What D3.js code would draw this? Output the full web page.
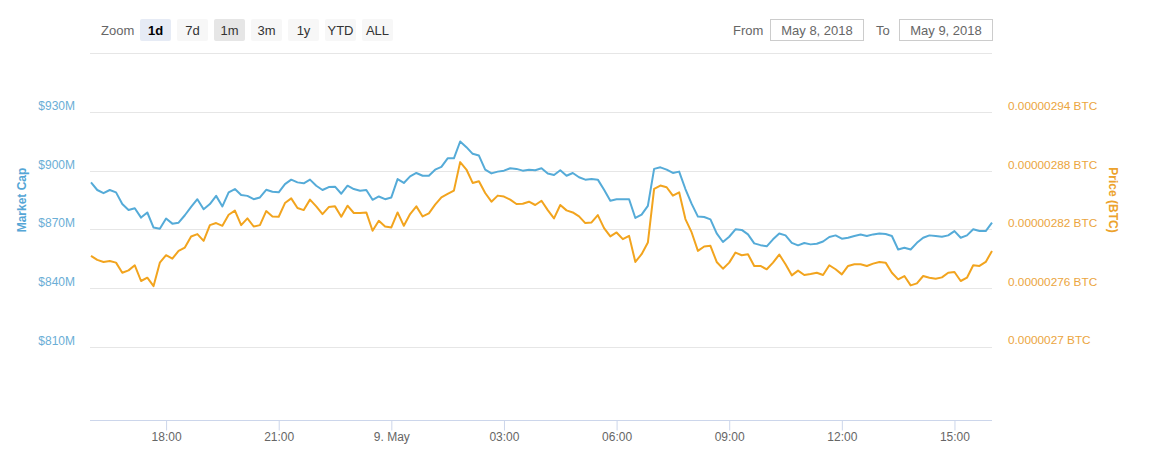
<!DOCTYPE html>
<html>
<head>
<meta charset="utf-8">
<script src="https://cdn.jsdelivr.net/npm/d3@7"></script>
<style>
  html, body { margin: 0; padding: 0; background: #fff; }
  svg { display: block; font-family: "Liberation Sans", Arial, sans-serif; }
</style>
</head>
<body>
<svg id="chart" width="1161" height="467"></svg>
<script>
// ---------- data (10-minute samples from 8 May 2018 16:00 to 9 May 2018 16:00) ----------
const startTime = Date.UTC(2018, 4, 8, 16, 0);
const stepMinutes = 10;

const marketCapM = [
  894.0, 890.1, 888.5, 890.1, 888.9, 882.9, 879.9, 880.8, 876.0, 878.6,
  870.9, 870.3, 875.5, 872.9, 873.4, 877.2, 881.5, 885.4, 880.3, 882.9,
  887.1, 881.7, 888.9, 890.6, 887.5, 887.1, 885.4, 886.3, 890.2, 889.2,
  888.9, 893.1, 895.4, 894.0, 893.5, 895.4, 892.3, 890.1, 891.6, 891.8,
  888.2, 892.3, 890.6, 889.7, 890.1, 885.1, 886.8, 885.4, 886.3, 895.7,
  893.7, 897.1, 898.8, 897.4, 897.4, 900.5, 901.9, 906.3, 906.3, 914.9,
  912.0, 908.6, 907.7, 900.5, 898.6, 899.5, 900.0, 901.2, 900.9, 900.0,
  900.5, 900.2, 901.2, 898.5, 897.8, 900.2, 897.4, 898.8, 896.6, 895.4,
  895.7, 895.4, 890.2, 884.6, 885.4, 885.4, 885.4, 875.8, 877.5, 882.0,
  900.9, 901.7, 900.5, 898.8, 899.5, 890.6, 883.0, 876.5, 876.3, 875.1,
  867.9, 863.5, 866.2, 870.0, 869.7, 867.4, 862.8, 861.9, 861.3, 864.9,
  867.9, 866.9, 863.1, 861.8, 863.0, 862.3, 862.6, 863.8, 866.1, 866.9,
  865.2, 865.7, 866.6, 867.3, 866.6, 867.4, 867.9, 867.6, 866.6, 859.7,
  860.6, 859.7, 863.1, 865.7, 866.9, 866.6, 866.2, 866.9, 869.1, 865.7,
  866.9, 870.0, 869.1, 869.1, 873.4
];

// price in units of 1e-8 BTC
const priceSat = [
  279.26, 278.85, 278.64, 278.74, 278.57, 277.54, 277.78, 278.30, 276.69, 277.03,
  276.17, 278.57, 279.33, 278.98, 279.77, 280.11, 281.25, 281.49, 280.80, 282.41,
  282.62, 282.34, 283.47, 283.89, 282.41, 283.10, 282.27, 282.41, 283.85, 283.30,
  283.27, 284.67, 285.15, 284.16, 283.95, 285.02, 284.33, 283.54, 284.26, 284.33,
  283.27, 284.40, 283.65, 283.65, 283.71, 281.83, 282.86, 282.27, 282.17, 283.71,
  282.34, 283.54, 284.33, 283.30, 283.61, 284.50, 285.26, 285.60, 285.94, 288.86,
  288.10, 286.73, 286.90, 285.70, 284.81, 285.43, 285.33, 285.02, 284.57, 284.60,
  284.81, 284.47, 284.91, 283.95, 283.10, 284.47, 283.92, 283.71, 283.30, 282.62,
  282.69, 283.44, 282.10, 281.25, 281.66, 280.97, 281.31, 278.64, 279.43, 280.63,
  286.11, 286.46, 286.29, 285.43, 285.77, 283.03, 281.66, 279.77, 280.22, 280.29,
  278.64, 277.95, 278.57, 279.60, 279.33, 279.43, 278.23, 278.23, 277.89, 278.57,
  279.40, 278.40, 277.27, 277.75, 277.30, 277.41, 277.54, 277.30, 278.30, 277.89,
  277.37, 278.23, 278.40, 278.40, 278.23, 278.47, 278.64, 278.57, 277.54, 276.86,
  277.20, 276.24, 276.45, 277.20, 277.03, 276.93, 277.06, 277.54, 277.61, 276.69,
  277.03, 278.30, 278.23, 278.64, 279.77
];

const capTicks = [810, 840, 870, 900, 930];
const capGrid = [810, 840, 870, 900, 930, 960];
const priceTicks = [270, 276, 282, 288, 294];
const zoomButtons = ["1d", "7d", "1m", "3m", "1y", "YTD", "ALL"];
const fromDate = "May 8, 2018";
const toDate = "May 9, 2018";

// ---------- setup ----------
const svg = d3.select("#chart");
const plot = { left: 91, right: 992, top: 53.3, bottom: 420 };
const blue = "#55abd8";
const orange = "#f2a41e";

const t0 = new Date(startTime);
const t1 = new Date(startTime + 24 * 3600 * 1000);
const x = d3.scaleUtc().domain([t0, t1]).range([plot.left, plot.right]);
const yCap = d3.scaleLinear().domain([772.5, 960]).range([plot.bottom, plot.top]);
const yPrice = d3.scaleLinear().domain([262.46, 300]).range([plot.bottom, plot.top]);

const timeAt = i => new Date(startTime + i * stepMinutes * 60000);

// gridlines
svg.append("g").selectAll("line").data(capGrid).join("line")
  .attr("x1", 90).attr("x2", plot.right)
  .attr("y1", d => Math.round(yCap(d)) + 0.5).attr("y2", d => Math.round(yCap(d)) + 0.5)
  .attr("stroke", "#e6e6e6").attr("stroke-width", 1);

// x axis
const xAxis = d3.axisBottom(x)
  .ticks(d3.utcHour.every(3))
  .tickSizeInner(10).tickSizeOuter(0).tickPadding(2)
  .tickFormat(d => d.getUTCHours() === 0 ? d.getUTCDate() + ". May" : d3.utcFormat("%H:%M")(d));
const gx = svg.append("g").attr("transform", `translate(0,${plot.bottom + 0.5})`).call(xAxis);
gx.select(".domain").attr("stroke", "#ccd6eb").attr("d", `M90,0H${plot.right}`);
gx.selectAll(".tick line").attr("stroke", "#ccd6eb");
gx.selectAll(".tick text").attr("fill", "#666").style("font-size", "12px").style("font-family", "Liberation Sans, Arial, sans-serif");

// left axis labels
const gl = svg.append("g").attr("transform", `translate(75,0)`)
  .call(d3.axisLeft(yCap).tickValues(capTicks).tickSize(0).tickPadding(0).tickFormat(d => "$" + d + "M"));
gl.select(".domain").remove();
gl.selectAll(".tick text").attr("fill", "#6aaed6").attr("dy", "-2.5").style("font-size", "12px").style("font-family", "Liberation Sans, Arial, sans-serif");

// right axis labels
const fmtPrice = d => (d * 1e-8).toFixed(8).replace(/0+$/, "") + " BTC";
const gr = svg.append("g").attr("transform", `translate(1008,0)`)
  .call(d3.axisRight(yPrice).tickValues(priceTicks).tickSize(0).tickPadding(0).tickFormat(fmtPrice));
gr.select(".domain").remove();
gr.selectAll(".tick text").attr("fill", "#eba53d").attr("dy", "-2.5").style("font-size", "11.8px").style("font-family", "Liberation Sans, Arial, sans-serif");

// axis titles
svg.append("text").attr("transform", "translate(26,200) rotate(-90)")
  .attr("text-anchor", "middle").attr("fill", "#55a6d6")
  .style("font-size", "12px").style("font-weight", "bold").text("Market Cap");
svg.append("text").attr("transform", "translate(1109,200) rotate(90)")
  .attr("text-anchor", "middle").attr("fill", "#eca22c")
  .style("font-size", "12px").style("font-weight", "bold").text("Price (BTC)");

// lines
const capLine = d3.line().x((d, i) => x(timeAt(i))).y(d => yCap(d));
const priceLine = d3.line().x((d, i) => x(timeAt(i))).y(d => yPrice(d));
svg.append("path").datum(marketCapM).attr("d", capLine)
  .attr("fill", "none").attr("stroke", blue).attr("stroke-width", 2).attr("stroke-linejoin", "round");
svg.append("path").datum(priceSat).attr("d", priceLine)
  .attr("fill", "none").attr("stroke", orange).attr("stroke-width", 2).attr("stroke-linejoin", "round");

// ---------- toolbar ----------
svg.append("text").attr("x", 101).attr("y", 34.5).attr("fill", "#666")
  .style("font-size", "13px").text("Zoom");
const btn = svg.append("g").selectAll("g").data(zoomButtons).join("g")
  .attr("transform", (d, i) => `translate(${140 + i * 37},19)`);
btn.append("rect").attr("width", 31).attr("height", 22).attr("rx", 2)
  .attr("fill", d => d === "1d" ? "#e6ebf5" : d === "1m" ? "#e6e6e6" : "#f7f7f7");
btn.append("text").attr("x", 15.5).attr("y", 15.5).attr("text-anchor", "middle")
  .attr("fill", d => d === "1d" ? "#000" : "#333")
  .style("font-weight", d => d === "1d" ? "bold" : "normal")
  .style("font-size", "13px").text(d => d);

svg.append("text").attr("x", 733).attr("y", 34.5).attr("fill", "#666").style("font-size", "13px").text("From");
svg.append("text").attr("x", 876).attr("y", 34.5).attr("fill", "#666").style("font-size", "13px").text("To");
const boxes = [{ x: 770.5, t: fromDate }, { x: 899.5, t: toDate }];
const bx = svg.append("g").selectAll("g").data(boxes).join("g").attr("transform", d => `translate(${d.x},19.5)`);
bx.append("rect").attr("width", 93).attr("height", 21).attr("fill", "#fff").attr("stroke", "#ccc");
bx.append("text").attr("x", 46.5).attr("y", 15).attr("text-anchor", "middle").attr("fill", "#666")
  .style("font-size", "13px").text(d => d.t);
</script>
</body>
</html>
